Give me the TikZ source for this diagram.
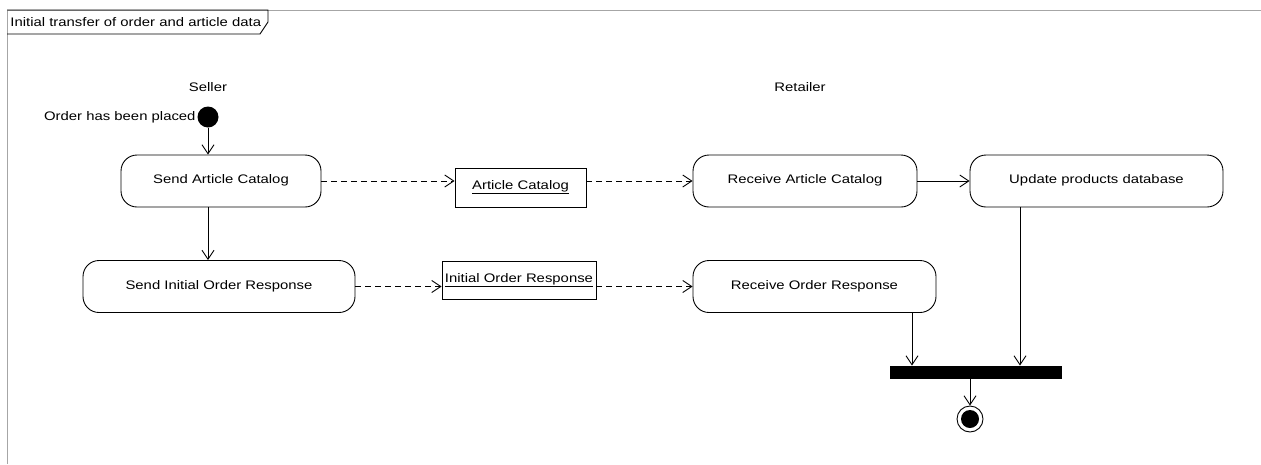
\documentclass[tikz,border=0pt]{standalone}
\usepackage{fontspec}
\setmainfont{Liberation Sans}[FakeStretch=1.2]
\usetikzlibrary{arrows.meta,calc}
\begin{document}
\begin{tikzpicture}[x=1pt,y=-1pt,
  font=\fontsize{12.4}{14}\selectfont,
  line width=0.9pt,
  act/.style={draw, rounded corners=16pt, minimum height=52pt, inner sep=0pt},
  obj/.style={draw, inner sep=0pt},
  arr/.style={-{Straight Barb[length=9pt,width=12pt]}},
  dep/.style={arr, dash pattern=on 6pt off 4pt},
  lbl/.style={inner sep=0pt}]
\useasboundingbox (0,0) rectangle (1261,464);
% frame
\draw[gray!70] (7,464) -- (7,10) -- (1261,10);
\draw (7,10) -- (268,10) -- (268,22) -- (260,34) -- (7,34);
\node[lbl, anchor=west] (title) at (10,22) {Initial transfer of order and article data};
% partitions
\node[lbl] (seller) at (208,87) {Seller};
\node[lbl] (retailer) at (800,87) {Retailer};
% initial
\node[circle, fill, minimum size=21pt, inner sep=0pt] (init) at (208,117) {};
\node[lbl, anchor=east] (initlbl) at (196,117) {Order has been placed};
% activities
\node[act, minimum width=200pt] (sac) at (221,181) {\raisebox{3pt}{Send Article Catalog}};
\node[act, minimum width=272pt] (sior) at (219,286.5) {\raisebox{3pt}{Send Initial Order Response}};
\node[act, minimum width=224pt] (rac) at (805,181) {\raisebox{3pt}{Receive Article Catalog}};
\node[act, minimum width=253pt] (upd) at (1096.5,181) {\raisebox{3pt}{Update products database}};
\node[act, minimum width=243pt] (ror) at (814.5,286.5) {\raisebox{3pt}{Receive Order Response}};
% objects
\node[obj, minimum width=131pt, minimum height=39pt] (ac) at (520.5,187.5) {\underline{Article Catalog}};
\node[obj, minimum width=154pt, minimum height=38pt] (ior) at (519,280) {\raisebox{4pt}{\underline{Initial Order Response}}};
% fork bar and final
\node[fill, minimum width=172pt, minimum height=13pt, inner sep=0pt] (bar) at (976,372.5) {};
\node[circle, draw, minimum size=26pt, inner sep=0pt] (fin) at (970,419) {};
\node[circle, fill, minimum size=18pt, inner sep=0pt] (finin) at (fin) {};
% control flows
\draw[arr] (init.south) -- (init.south |- sac.north);
\draw[arr] (init.south |- sac.south) -- (init.south |- sior.north);
\draw[arr] (rac.east) -- (upd.west);
\draw[arr] ([xshift=97.5pt]ror.south) -- ([xshift=97.5pt]ror.south |- bar.north);
\draw[arr] ([xshift=-76.5pt]upd.south) -- ([xshift=-76.5pt]upd.south |- bar.north);
\draw[arr] (fin.north |- bar.south) -- (fin.north);
% object flows
\draw[dep] (sac.east) -- (sac.east -| ac.west);
\draw[dep] (ac.east |- sac.east) -- (rac.west);
\draw[dep] (sior.east) -- (sior.east -| ior.west);
\draw[dep] (ior.east |- sior.east) -- (ror.west);
\end{tikzpicture}
\end{document}
